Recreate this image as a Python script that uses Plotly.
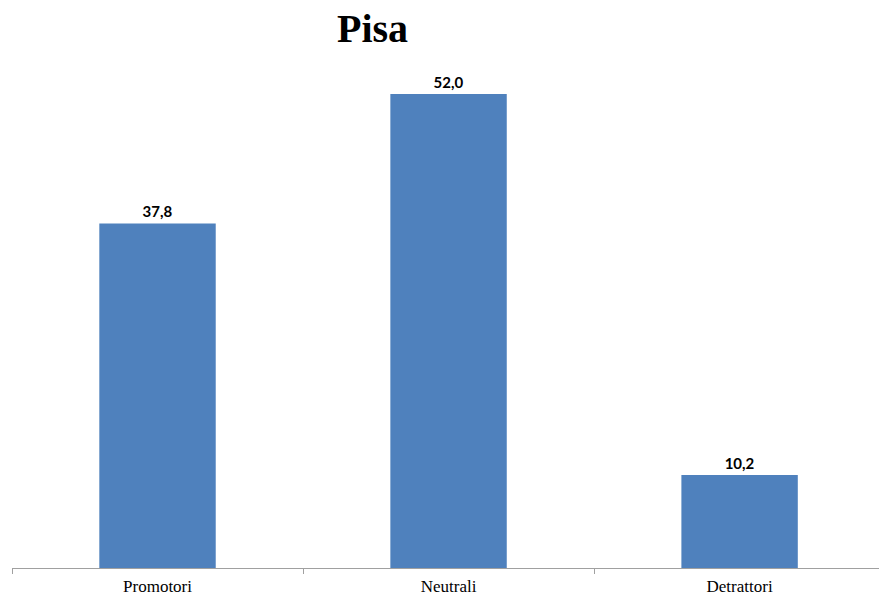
import plotly.graph_objects as go

categories = ["Promotori", "Neutrali", "Detrattori"]
values = [37.8, 52.0, 10.2]
title_text = "Pisa"

fig = go.Figure(go.Bar(
    x=categories, y=values,
    marker=dict(color="#4F81BD", line=dict(width=0)),
    width=0.4,
    texttemplate="<b>%{y:.1f}</b>",
    textposition="outside",
    textfont=dict(family="Lato", size=15, color="#000000"),
    cliponaxis=False,
))

fig.update_layout(
    width=879, height=596,
    margin=dict(l=12, r=0, t=21, b=28, autoexpand=False),
    paper_bgcolor="white", plot_bgcolor="white",
    separators=",.",
    showlegend=False,
    xaxis=dict(
        range=[-0.5, 2.479],
        automargin=False,
        showline=True, linecolor="#A0A0A0", linewidth=1,
        ticks="outside", tickson="boundaries", ticklen=5, tickcolor="#A0A0A0",
        ticklabelstandoff=3,
        tickfont=dict(family="Liberation Serif", size=17, color="#000000"),
        showgrid=False, zeroline=False,
    ),
    yaxis=dict(range=[0, 60], visible=False, showgrid=False, zeroline=False),
    annotations=[dict(
        text="<b>" + title_text + "</b>", xref="paper", yref="paper",
        x=(372 - 12) / 867, y=1, yshift=-7, xanchor="center", yanchor="middle",
        showarrow=False,
        font=dict(family="Liberation Serif", size=40, color="#000000"),
    )],
)

fig.write_html("out.html")
